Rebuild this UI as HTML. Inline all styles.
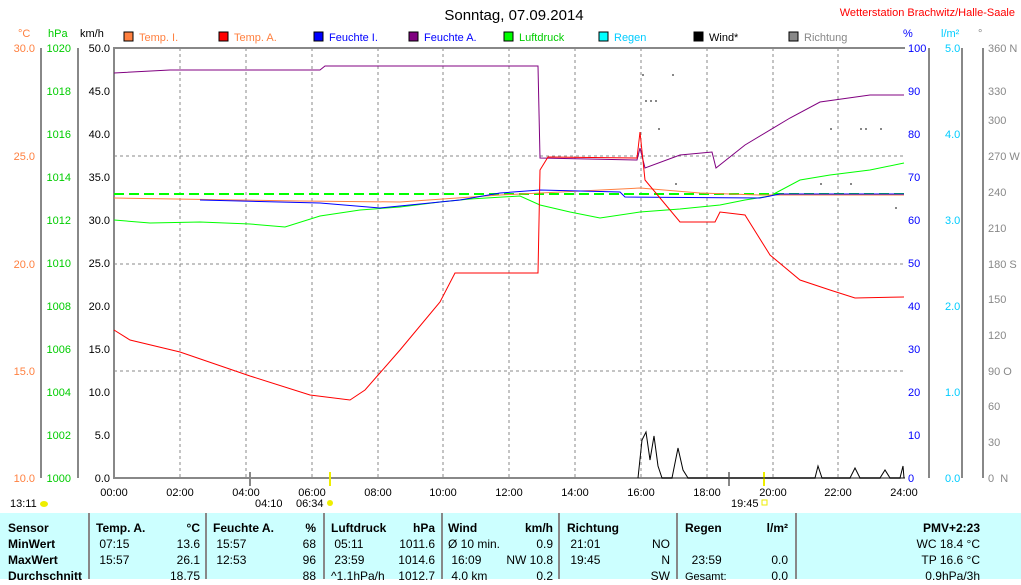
<!DOCTYPE html>
<html><head><meta charset="utf-8"><style>
body{margin:0;background:#fff;width:1021px;height:579px;overflow:hidden;font-family:"Liberation Sans",sans-serif}
svg{position:absolute;left:0;top:0}
.tb{position:absolute;left:0;top:513px;width:1021px;height:66px;background:#ccffff;font-size:12px}
.tb div{position:absolute;white-space:nowrap}
.b{font-weight:bold}
</style></head><body>
<svg width="1021" height="513" font-family="Liberation Sans, sans-serif" font-size="11">
<text x="514" y="20" font-size="15" text-anchor="middle">Sonntag, 07.09.2014</text>
<text x="1015" y="16" font-size="11" fill="#f00" text-anchor="end">Wetterstation Brachwitz/Halle-Saale</text>
<text x="18" y="37" fill="#ff8040">°C</text><text x="48" y="37" fill="#0c0">hPa</text><text x="80" y="37">km/h</text>
<text x="903" y="37" fill="#00f">%</text><text x="941" y="37" fill="#0cf">l/m²</text><text x="978" y="37" fill="#888">°</text>
<g font-size="11">
<rect x="124" y="32" width="9" height="9" fill="#ff8040" stroke="#000"/><text x="139" y="41" fill="#ff8040">Temp. I.</text>
<rect x="219" y="32" width="9" height="9" fill="#f00" stroke="#000"/><text x="234" y="41" fill="#ff8040">Temp. A.</text>
<rect x="314" y="32" width="9" height="9" fill="#00f" stroke="#000"/><text x="329" y="41" fill="#00f">Feuchte I.</text>
<rect x="409" y="32" width="9" height="9" fill="#800080" stroke="#000"/><text x="424" y="41" fill="#00f">Feuchte A.</text>
<rect x="504" y="32" width="9" height="9" fill="#0f0" stroke="#000"/><text x="519" y="41" fill="#0c0">Luftdruck</text>
<rect x="599" y="32" width="9" height="9" fill="#0ff" stroke="#000"/><text x="614" y="41" fill="#0cf">Regen</text>
<rect x="694" y="32" width="9" height="9" fill="#000" stroke="#000"/><text x="709" y="41">Wind*</text>
<rect x="789" y="32" width="9" height="9" fill="#888" stroke="#000"/><text x="804" y="41" fill="#888">Richtung</text>
</g>
<g stroke="#888" stroke-width="2"><line x1="41" y1="48" x2="41" y2="478"/><line x1="78" y1="48" x2="78" y2="478"/><line x1="114" y1="47" x2="114" y2="479"/><line x1="113" y1="48" x2="905" y2="48"/><line x1="113" y1="478" x2="905" y2="478"/>
<line x1="929" y1="48" x2="929" y2="478"/><line x1="962" y1="48" x2="962" y2="478"/><line x1="983" y1="48" x2="983" y2="478"/></g>
<g stroke="#888" stroke-dasharray="3,3"><line x1="114" y1="156" x2="904" y2="156"/><line x1="114" y1="264" x2="904" y2="264"/><line x1="114" y1="371" x2="904" y2="371"/>
<line x1="180" y1="48" x2="180" y2="478"/><line x1="246" y1="48" x2="246" y2="478"/><line x1="312" y1="48" x2="312" y2="478"/><line x1="378" y1="48" x2="378" y2="478"/><line x1="443" y1="48" x2="443" y2="478"/><line x1="509" y1="48" x2="509" y2="478"/><line x1="575" y1="48" x2="575" y2="478"/><line x1="641" y1="48" x2="641" y2="478"/><line x1="707" y1="48" x2="707" y2="478"/><line x1="773" y1="48" x2="773" y2="478"/><line x1="838" y1="48" x2="838" y2="478"/></g>
<g fill="#ff8040" text-anchor="end"><text x="35" y="52">30.0</text><text x="35" y="160">25.0</text><text x="35" y="268">20.0</text><text x="35" y="375">15.0</text><text x="35" y="482">10.0</text></g>
<g fill="#0c0" text-anchor="end"><text x="71" y="52">1020</text><text x="71" y="95">1018</text><text x="71" y="138">1016</text><text x="71" y="181">1014</text><text x="71" y="224">1012</text><text x="71" y="267">1010</text><text x="71" y="310">1008</text><text x="71" y="353">1006</text><text x="71" y="396">1004</text><text x="71" y="439">1002</text><text x="71" y="482">1000</text></g>
<g text-anchor="end"><text x="110" y="52">50.0</text><text x="110" y="95">45.0</text><text x="110" y="138">40.0</text><text x="110" y="181">35.0</text><text x="110" y="224">30.0</text><text x="110" y="267">25.0</text><text x="110" y="310">20.0</text><text x="110" y="353">15.0</text><text x="110" y="396">10.0</text><text x="110" y="439">5.0</text><text x="110" y="482">0.0</text></g>
<g fill="#00f"><text x="908" y="52">100</text><text x="908" y="95">90</text><text x="908" y="138">80</text><text x="908" y="181">70</text><text x="908" y="224">60</text><text x="908" y="267">50</text><text x="908" y="310">40</text><text x="908" y="353">30</text><text x="908" y="396">20</text><text x="908" y="439">10</text><text x="908" y="482">0</text></g>
<g fill="#0cf"><text x="945" y="52">5.0</text><text x="945" y="138">4.0</text><text x="945" y="224">3.0</text><text x="945" y="310">2.0</text><text x="945" y="396">1.0</text><text x="945" y="482">0.0</text></g>
<g fill="#888"><text x="988" y="52">360 N</text><text x="988" y="95">330</text><text x="988" y="124">300</text><text x="988" y="160">270 W</text><text x="988" y="196">240</text><text x="988" y="232">210</text><text x="988" y="268">180 S</text><text x="988" y="303">150</text><text x="988" y="339">120</text><text x="988" y="375">90 O</text><text x="988" y="410">60</text><text x="988" y="446">30</text><text x="988" y="482">0&#160;&#160;N</text></g>
<g text-anchor="middle"><text x="114" y="496">00:00</text><text x="180" y="496">02:00</text><text x="246" y="496">04:00</text><text x="312" y="496">06:00</text><text x="378" y="496">08:00</text><text x="443" y="496">10:00</text><text x="509" y="496">12:00</text><text x="575" y="496">14:00</text><text x="641" y="496">16:00</text><text x="707" y="496">18:00</text><text x="773" y="496">20:00</text><text x="838" y="496">22:00</text><text x="904" y="496">24:00</text></g>
<text x="10" y="507">13:11</text><ellipse cx="44" cy="504" rx="4" ry="3" fill="#ee0"/>
<text x="255" y="507">04:10</text><text x="296" y="507">06:34</text><circle cx="330" cy="503" r="3" fill="#ee0"/>
<text x="731" y="507">19:45</text><rect x="762" y="500" width="5" height="5" fill="none" stroke="#ee0"/>
<line x1="330" y1="472" x2="330" y2="486" stroke="#ee0" stroke-width="2"/><line x1="764" y1="472" x2="764" y2="486" stroke="#ee0" stroke-width="2"/>
<line x1="250" y1="472" x2="250" y2="486" stroke="#888" stroke-width="2"/><line x1="729" y1="472" x2="729" y2="486" stroke="#888" stroke-width="2"/>
<g fill="#888"><rect x="642" y="74" width="2" height="2"/><rect x="672" y="74" width="2" height="2"/><rect x="645" y="100" width="2" height="2"/><rect x="650" y="100" width="2" height="2"/><rect x="655" y="100" width="2" height="2"/><rect x="658" y="128" width="2" height="2"/><rect x="675" y="183" width="2" height="2"/><rect x="830" y="128" width="2" height="2"/><rect x="860" y="128" width="2" height="2"/><rect x="865" y="128" width="2" height="2"/><rect x="880" y="128" width="2" height="2"/><rect x="820" y="183" width="2" height="2"/><rect x="850" y="183" width="2" height="2"/><rect x="895" y="207" width="2" height="2"/></g>
<line x1="114" y1="194" x2="904" y2="194" stroke="#0f0" stroke-width="2" stroke-dasharray="10,5"/>
<polyline fill="none" stroke="#0f0" points="114,220 150,223 200,222 250,224 285,227 320,216 360,210 400,207 440,202 470,199 520,196 540,205 570,212 600,218 640,212 680,209 720,205 745,200 770,196 800,180 830,175 870,170 904,163"/>
<polyline fill="none" stroke="#ff8040" points="114,198 300,201 400,202 500,195 640,188 700,193 760,195 800,195 904,195"/>
<polyline fill="none" stroke="#00f" points="200,200 320,203 380,208 460,200 500,193 540,190 620,192 625,197 760,198 780,194 904,194"/>
<polyline fill="none" stroke="#800080" points="114,73 170,70 320,70 325,66 538,66 540,158 637,160 640,148 645,168 680,155 712,152 716,168 745,145 790,118 820,102 870,95 904,95"/>
<polyline fill="none" stroke="#f00" points="114,330 130,340 180,352 250,376 310,395 350,400 365,390 400,350 440,302 455,273 538,273 540,170 548,157 637,158 640,132 645,180 680,222 715,222 720,212 745,215 770,255 800,280 830,290 855,298 904,297"/>
<polyline fill="none" stroke="#000" points="638,478 642,440 646,432 650,460 654,436 658,466 662,478 672,478 678,448 683,470 688,478 815,478 818,466 822,478 850,478 855,468 860,478 880,478 885,470 890,478 900,478 903,466 904,478"/>
</svg>
<div class="tb">
<div style="left:88px;top:0;width:2px;height:66px;background:#888"></div><div style="left:205px;top:0;width:2px;height:66px;background:#888"></div><div style="left:323px;top:0;width:2px;height:66px;background:#888"></div><div style="left:441px;top:0;width:2px;height:66px;background:#888"></div><div style="left:558px;top:0;width:2px;height:66px;background:#888"></div><div style="left:676px;top:0;width:2px;height:66px;background:#888"></div><div style="left:795px;top:0;width:2px;height:66px;background:#888"></div>
<div class="b" style="left:8px;top:7px;line-height:16px">Sensor<br>MinWert<br>MaxWert<br>Durchschnitt</div>
<div style="left:96px;top:7px;line-height:16px"><b>Temp. A.</b><br>&#160;07:15<br>&#160;15:57</div>
<div style="left:150px;top:7px;width:50px;text-align:right;line-height:16px"><b>°C</b><br>13.6<br>26.1<br>18.75</div>
<div style="left:213px;top:7px;line-height:16px"><b>Feuchte A.</b><br>&#160;15:57<br>&#160;12:53</div>
<div style="left:270px;top:7px;width:46px;text-align:right;line-height:16px"><b>%</b><br>68<br>96<br>88</div>
<div style="left:331px;top:7px;line-height:16px"><b>Luftdruck</b><br>&#160;05:11<br>&#160;23:59<br>^1.1hPa/h</div>
<div style="left:390px;top:7px;width:45px;text-align:right;line-height:16px"><b>hPa</b><br>1011.6<br>1014.6<br>1012.7</div>
<div style="left:448px;top:7px;line-height:16px"><b>Wind</b><br>Ø 10 min.<br>&#160;16:09<br>&#160;4.0 km</div>
<div style="left:500px;top:7px;width:53px;text-align:right;line-height:16px"><b>km/h</b><br>0.9<br>NW 10.8<br>0.2</div>
<div style="left:567px;top:7px;line-height:16px"><b>Richtung</b><br>&#160;21:01<br>&#160;19:45</div>
<div style="left:620px;top:7px;width:50px;text-align:right;line-height:16px">&#160;<br>NO<br>N<br>SW</div>
<div style="left:685px;top:7px;line-height:16px"><b>Regen</b><br>&#160;<br>&#160;&#160;23:59<br><span style="font-size:11px">Gesamt:</span></div>
<div style="left:740px;top:7px;width:48px;text-align:right;line-height:16px"><b>l/m²</b><br>&#160;<br>0.0<br>0.0</div>
<div style="left:860px;top:7px;width:120px;text-align:right;line-height:16px"><b>PMV+2:23</b><br>WC 18.4 °C<br>TP 16.6 °C<br>0.9hPa/3h</div>
</div>
</body></html>
